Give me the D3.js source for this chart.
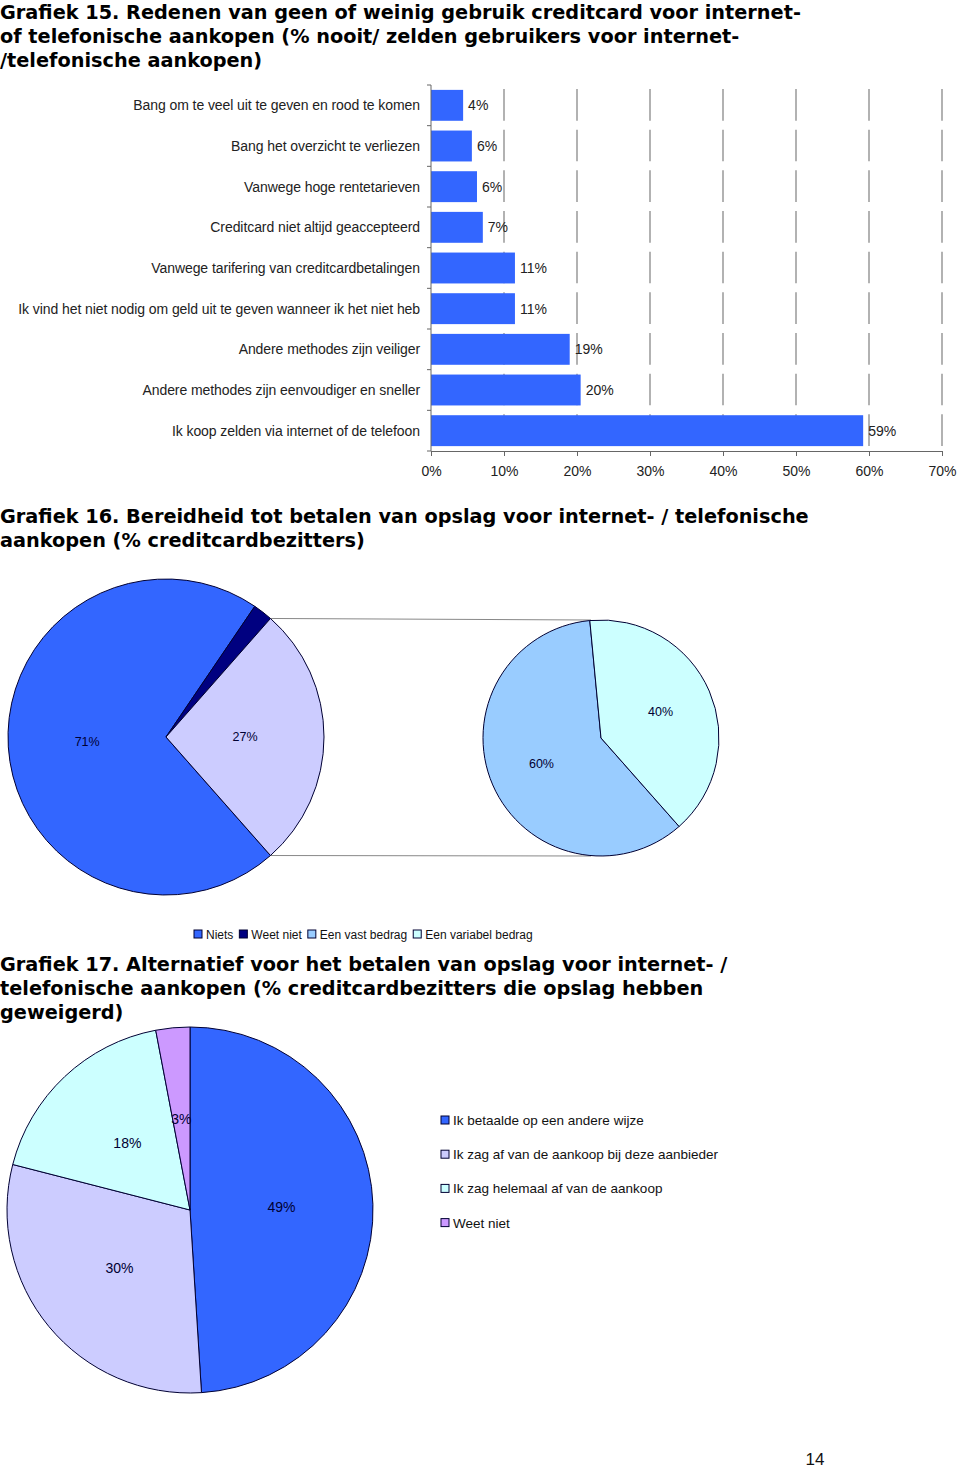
<!DOCTYPE html>
<html>
<head>
<meta charset="utf-8">
<script src="https://cdn.jsdelivr.net/npm/d3@7"></script>
<style>
  body { margin: 0; background: #fff; }
  svg text { font-family: "Liberation Sans", Arial, sans-serif; }
  .title { font-family: "DejaVu Sans", Verdana, sans-serif !important; font-weight: bold; font-size: 19.3px; fill: #000; }
</style>
</head>
<body>
<div id="chart"></div>
<script>
// Grafiek 15 data
var reasons = [
  "Bang om te veel uit te geven en rood te komen",
  "Bang het overzicht te verliezen",
  "Vanwege hoge rentetarieven",
  "Creditcard niet altijd geaccepteerd",
  "Vanwege tarifering van creditcardbetalingen",
  "Ik vind het niet nodig om geld uit te geven wanneer ik het niet heb",
  "Andere methodes zijn veiliger",
  "Andere methodes zijn eenvoudiger en sneller",
  "Ik koop zelden via internet of de telefoon"
];
var reasonValues = [4.4, 5.6, 6.3, 7.1, 11.5, 11.5, 19.0, 20.5, 59.2];
var reasonLabels = ["4%", "6%", "6%", "7%", "11%", "11%", "19%", "20%", "59%"];
var xTicks = [0, 10, 20, 30, 40, 50, 60, 70];

// Grafiek 16 data
var willCats = ["Niets", "Weet niet", "Een vast bedrag", "Een variabel bedrag"];
var mainPie = [71, 2, 27];            // Niets, Weet niet, bedrag (split)
var mainLabels = ["71%", "", "27%"];
var subPie = [60, 40];                // vast, variabel
var subLabels = ["60%", "40%"];

// Grafiek 17 data
var altCats = [
  "Ik betaalde op een andere wijze",
  "Ik zag af van de aankoop bij deze aanbieder",
  "Ik zag helemaal af van de aankoop",
  "Weet niet"
];
var altValues = [49, 30, 18, 3];
var altLabels = ["49%", "30%", "18%", "3%"];

var W = 960, H = 1468;
var svg = d3.select("#chart").append("svg")
    .attr("width", W)
    .attr("height", H);

function title(lines, y0) {
  var t = svg.append("text").attr("class", "title");
  lines.forEach(function (l, i) {
    t.append("tspan").attr("x", 0).attr("y", y0 + i * 23.8).text(l);
  });
}

// ---------- Grafiek 15 ----------
title(["Grafiek 15. Redenen van geen of weinig gebruik creditcard voor internet-",
       "of telefonische aankopen (% nooit/ zelden gebruikers voor internet-",
       "/telefonische aankopen)"], 19);

var x = d3.scaleLinear().domain([0, 70]).range([431, 942]);
var y = d3.scaleBand().domain(reasons).range([85, 451]).paddingInner(0.24).paddingOuter(0.12);
var step = y.step();

var bar = svg.append("g");

// gridlines
bar.selectAll(".grid")
  .data(xTicks.slice(1))
  .enter().append("line")
  .attr("x1", function (d) { return x(d); })
  .attr("x2", function (d) { return x(d); })
  .attr("y1", 85)
  .attr("y2", 451)
  .attr("stroke", "#999")
  .attr("stroke-width", 1.5)
  .attr("stroke-dasharray", (step - 9) + "," + 9)
  .attr("stroke-dashoffset", -4);

bar.selectAll(".bar")
  .data(reasons)
  .enter().append("rect")
  .attr("x", x(0))
  .attr("y", function (d) { return y(d); })
  .attr("width", function (d, i) { return x(reasonValues[i]) - x(0); })
  .attr("height", y.bandwidth())
  .attr("fill", "#3366FF");

bar.selectAll(".vlab")
  .data(reasons)
  .enter().append("text")
  .attr("x", function (d, i) { return x(reasonValues[i]) + 5; })
  .attr("y", function (d) { return y(d) + y.bandwidth() / 2 + 5; })
  .style("font-size", "14px")
  .attr("fill", "#222")
  .text(function (d, i) { return reasonLabels[i]; });

// y axis
var yAxis = bar.append("g")
  .attr("transform", "translate(" + x(0) + ",0)");
yAxis.append("line").attr("x1", 0).attr("x2", 0).attr("y1", 85).attr("y2", 451).attr("stroke", "#666");
yAxis.selectAll(".tk")
  .data(d3.range(reasons.length + 1))
  .enter().append("line")
  .attr("x1", -4).attr("x2", 0)
  .attr("y1", function (d) { return 85 + d * step; })
  .attr("y2", function (d) { return 85 + d * step; })
  .attr("stroke", "#666");
yAxis.selectAll(".cat")
  .data(reasons)
  .enter().append("text")
  .attr("x", -11)
  .attr("y", function (d) { return y(d) + y.bandwidth() / 2 + 5; })
  .attr("text-anchor", "end")
  .style("font-size", "14px")
  .style("letter-spacing", "-0.08px")
  .attr("fill", "#222")
  .text(function (d) { return d; });

// x axis
var xAxis = bar.append("g")
  .attr("transform", "translate(0,451)")
  .call(d3.axisBottom(x).tickValues(xTicks).tickSize(5).tickPadding(10)
        .tickFormat(function (d) { return d + "%"; }));
xAxis.select(".domain").attr("stroke", "#666");
xAxis.selectAll(".tick line").attr("stroke", "#666");
xAxis.selectAll(".tick text")
  .style("font-size", "14px")
  .style("font-family", "'Liberation Sans', Arial, sans-serif")
  .attr("fill", "#222");

// ---------- Grafiek 16 ----------
title(["Grafiek 16. Bereidheid tot betalen van opslag voor internet- / telefonische",
       "aankopen (% creditcardbezitters)"], 523);

var c1 = { x: 166, y: 737, r: 158 };
var c2 = { x: 601, y: 738, r: 118 };
var colors16 = ["#3366FF", "#000080", "#CCCCFF"];
var subColors = ["#99CCFF", "#CCFFFF"];

// split slice centred at 3 o'clock
var splitAngle = mainPie[2] / 100 * Math.PI * 2;
var start1 = Math.PI / 2 + splitAngle / 2;
var pie1 = d3.pie().sort(null).startAngle(start1).endAngle(start1 + Math.PI * 2);
var arcs1 = pie1(mainPie);
var arc1 = d3.arc().innerRadius(0).outerRadius(c1.r);

// connector lines from split slice to sub pie
var sp = arcs1[2];
[sp.startAngle, sp.endAngle].forEach(function (a, i) {
  var px = c1.x + c1.r * Math.sin(a), py = c1.y - c1.r * Math.cos(a);
  svg.append("line")
    .attr("x1", px).attr("y1", py)
    .attr("x2", c2.x - 10).attr("y2", i === 0 ? c2.y - c2.r : c2.y + c2.r)
    .attr("stroke", "#888").attr("stroke-width", 1);
});

var g1 = svg.append("g").attr("transform", "translate(" + c1.x + "," + c1.y + ")");
g1.selectAll("path").data(arcs1).enter().append("path")
  .attr("d", arc1)
  .attr("fill", function (d, i) { return colors16[i]; })
  .attr("stroke", "#000033").attr("stroke-width", 1);
var lab1 = d3.arc().innerRadius(c1.r * 0.5).outerRadius(c1.r * 0.5);
g1.selectAll("text").data(arcs1).enter().append("text")
  .attr("transform", function (d) { var p = lab1.centroid(d); return "translate(" + p[0] + "," + (p[1] + 4) + ")"; })
  .attr("text-anchor", "middle")
  .style("font-size", "12.5px")
  .attr("fill", "#000033")
  .text(function (d, i) { return mainLabels[i]; });

var start2 = -0.095;
var pie2 = d3.pie().sort(null).startAngle(start2 + subPie[1] / 100 * Math.PI * 2 - Math.PI * 2)
  .endAngle(start2 + subPie[1] / 100 * Math.PI * 2);
var arcs2 = pie2(subPie);
var arc2 = d3.arc().innerRadius(0).outerRadius(c2.r);
var g2 = svg.append("g").attr("transform", "translate(" + c2.x + "," + c2.y + ")");
g2.selectAll("path").data(arcs2).enter().append("path")
  .attr("d", arc2)
  .attr("fill", function (d, i) { return subColors[i]; })
  .attr("stroke", "#000033").attr("stroke-width", 1);
var lab2 = d3.arc().innerRadius(c2.r * 0.55).outerRadius(c2.r * 0.55);
g2.selectAll("text").data(arcs2).enter().append("text")
  .attr("transform", function (d) { var p = lab2.centroid(d); return "translate(" + p[0] + "," + (p[1] + 4) + ")"; })
  .attr("text-anchor", "middle")
  .style("font-size", "12.5px")
  .attr("fill", "#000033")
  .text(function (d, i) { return subLabels[i]; });

// legend 16
var legColors16 = ["#3366FF", "#000080", "#99CCFF", "#CCFFFF"];
var leg16 = svg.append("g").attr("transform", "translate(194,934)");
var lx = 0;
willCats.forEach(function (c, i) {
  var item = leg16.append("g").attr("transform", "translate(" + lx + ",0)");
  item.append("rect").attr("x", 0).attr("y", -4).attr("width", 8).attr("height", 8)
    .attr("fill", legColors16[i]).attr("stroke", "#000033").attr("stroke-width", 1);
  var t = item.append("text").attr("x", 12).attr("y", 4.5)
    .style("font-size", "12px").attr("fill", "#111").text(c);
  lx += 12 + t.node().getComputedTextLength() + 6;
});

// ---------- Grafiek 17 ----------
title(["Grafiek 17. Alternatief voor het betalen van opslag voor internet- /",
       "telefonische aankopen (% creditcardbezitters die opslag hebben",
       "geweigerd)"], 971);

var c3 = { x: 190, y: 1210, r: 183 };
var colors17 = ["#3366FF", "#CCCCFF", "#CCFFFF", "#CC99FF"];
var pie3 = d3.pie().sort(null);
var arcs3 = pie3(altValues);
var arc3 = d3.arc().innerRadius(0).outerRadius(c3.r);
var g3 = svg.append("g").attr("transform", "translate(" + c3.x + "," + c3.y + ")");
g3.selectAll("path").data(arcs3).enter().append("path")
  .attr("d", arc3)
  .attr("fill", function (d, i) { return colors17[i]; })
  .attr("stroke", "#000033").attr("stroke-width", 1);
var lab3 = d3.arc().innerRadius(c3.r * 0.5).outerRadius(c3.r * 0.5);
g3.selectAll("text").data(arcs3).enter().append("text")
  .attr("transform", function (d) { var p = lab3.centroid(d); return "translate(" + p[0] + "," + (p[1] + 5) + ")"; })
  .attr("text-anchor", "middle")
  .style("font-size", "14px")
  .attr("fill", "#000033")
  .text(function (d, i) { return altLabels[i]; });

var leg17 = svg.append("g").attr("transform", "translate(441,1120)");
altCats.forEach(function (c, i) {
  var item = leg17.append("g").attr("transform", "translate(0," + (i * 34.2) + ")");
  item.append("rect").attr("x", 0).attr("y", -4).attr("width", 8).attr("height", 8)
    .attr("fill", colors17[i]).attr("stroke", "#000033").attr("stroke-width", 1);
  item.append("text").attr("x", 12).attr("y", 5)
    .style("font-size", "13.5px").attr("fill", "#111").text(c);
});

// page number
svg.append("text").attr("x", 815).attr("y", 1465)
  .attr("text-anchor", "middle")
  .style("font-size", "17px")
  .attr("fill", "#111")
  .text("14");
</script>
</body>
</html>
